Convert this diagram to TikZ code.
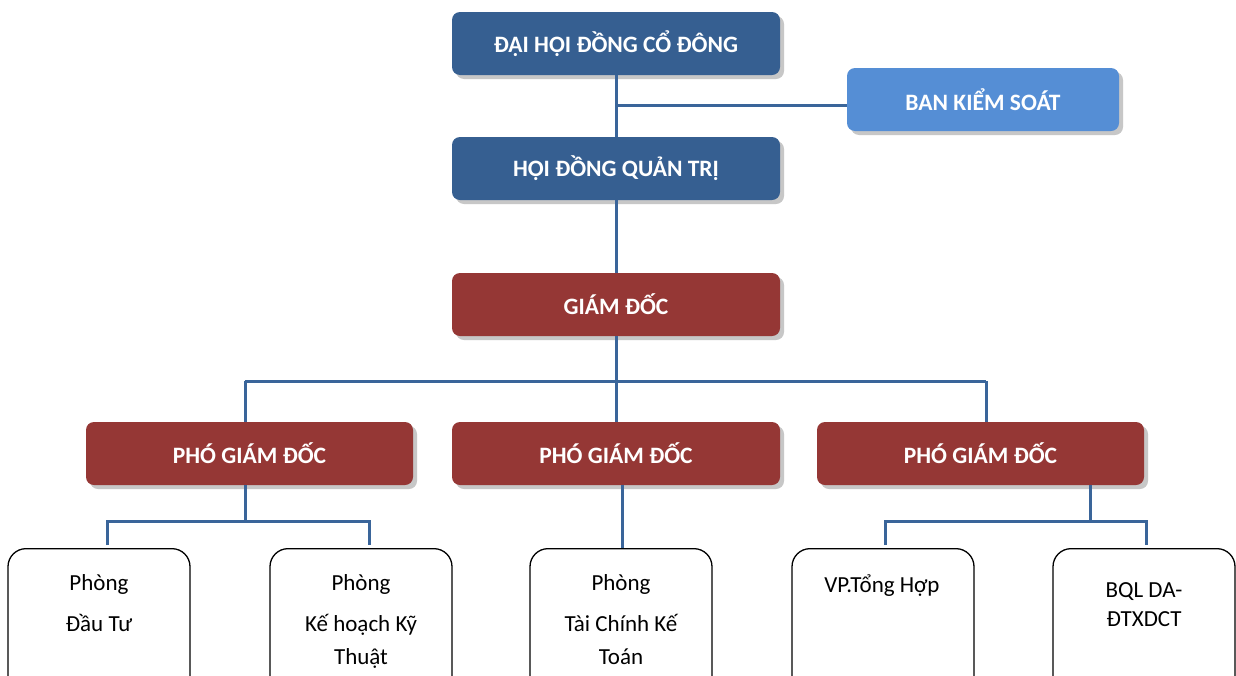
\documentclass[tikz,border=0pt]{standalone}
\usepackage{fontspec}
\setmainfont{Carlito}
\usetikzlibrary{shadows}
\definecolor{dblue}{HTML}{365F91}
\definecolor{lblue}{HTML}{558ED5}
\definecolor{dred}{HTML}{953735}
\definecolor{conn}{HTML}{3A659A}
\tikzset{
  hdr/.style={draw=none, rounded corners=8pt, minimum height=63pt, text=white,
    font=\fontsize{23.5}{26}\selectfont\bfseries, inner sep=0pt,
    drop shadow={shadow xshift=4pt, shadow yshift=-4pt, fill=black!22, opacity=1}},
  unit/.style={draw=black, line width=1.3pt, rounded corners=18pt, minimum width=182pt,
    minimum height=160pt, anchor=north, inner sep=0pt},
  utext/.style={anchor=base, font=\fontsize{23}{26}\selectfont, inner sep=0pt},
  link/.style={draw=conn, line width=3pt}
}
\begin{document}
\begin{tikzpicture}[x=1pt,y=-1pt]
\useasboundingbox (0,0) rectangle (1236,675);
\fill[white] (0,0) rectangle (1236,675);
\coordinate (j1) at (616,105);
\coordinate (j2) at (616,381);
\coordinate (jl) at (245,381);
\coordinate (jr) at (986,381);
\coordinate (k1) at (245,521);
\coordinate (k1l) at (107,521);
\coordinate (k1r) at (369,521);
\coordinate (k3) at (1090,521);
\coordinate (k3l) at (885,521);
\coordinate (k3r) at (1146,521);
\coordinate (e1) at (107,545);
\coordinate (e2) at (369,545);
\coordinate (e4) at (885,545);
\coordinate (e5) at (1146,545);
\coordinate (m3) at (622,485);

\node[hdr, fill=dblue, minimum width=328pt] (dh) at (616,43.5) {ĐẠI HỘI ĐỒNG CỔ ĐÔNG};
\node[hdr, fill=lblue, minimum width=272pt] (bks) at (983,99.5) {BAN KIỂM SOÁT};
\node[hdr, fill=dblue, minimum width=328pt] (hd) at (616,168.5) {HỘI ĐỒNG QUẢN TRỊ};
\node[hdr, fill=dred, minimum width=328pt] (gd) at (616,304.5) {GIÁM ĐỐC};
\node[hdr, fill=dred, minimum width=327pt] (p1) at (249.5,453.5) {PHÓ GIÁM ĐỐC};
\node[hdr, fill=dred, minimum width=328pt] (p2) at (616,453.5) {PHÓ GIÁM ĐỐC};
\node[hdr, fill=dred, minimum width=327pt] (p3) at (980.5,453.5) {PHÓ GIÁM ĐỐC};

\node[unit] (u1) at (99,548) {};
\node[unit] (u2) at (361,548) {};
\node[unit] (u3) at (621,548) {};
\node[unit] (u4) at (883,548) {};
\node[unit] (u5) at (1144,548) {};

\node[utext] (t1a) at (99,590) {Phòng};
\node[utext] (t1b) at (99,631) {Đầu Tư};
\node[utext] (t2a) at (361,590) {Phòng};
\node[utext] (t2b) at (361,631) {Kế hoạch Kỹ};
\node[utext] (t2c) at (361,664) {Thuật};
\node[utext] (t3a) at (621,590) {Phòng};
\node[utext] (t3b) at (621,631) {Tài Chính Kế};
\node[utext] (t3c) at (621,664) {Toán};
\node[utext] (t4a) at (882,592) {VP.Tổng Hợp};
\node[utext] (t5a) at (1144,597) {BQL DA-};
\node[utext] (t5b) at (1144,626) {ĐTXDCT};

\draw[link] (dh.south) -- (hd.north);
\draw[link] (j1) -- (j1 -| bks.west);
\draw[link] (hd.south) -- (gd.north);
\draw[link] (gd.south) -- (j2);
\draw[link] (jl) -- (jr);
\draw[link] (jl) -- (jl |- p1.north);
\draw[link] (j2) -- (p2.north);
\draw[link] (jr) -- (jr |- p3.north);
\draw[link] (k1 |- p1.south) -- (k1);
\draw[link] (e1) -- (k1l) -- (k1r) -- (e2);
\draw[link] (m3) -- (m3 |- u3.north);
\draw[link] (k3 |- p3.south) -- (k3);
\draw[link] (e4) -- (k3l) -- (k3r) -- (e5);
\end{tikzpicture}
\end{document}
